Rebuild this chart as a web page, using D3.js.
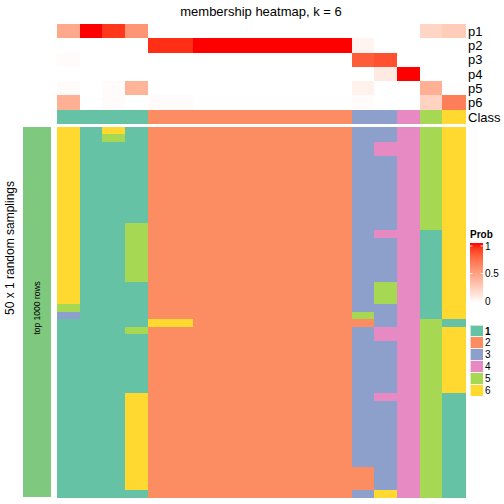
<!DOCTYPE html>
<html><head><meta charset="utf-8">
<script src="https://cdn.jsdelivr.net/npm/d3@7"></script>
<style>body{margin:0;background:#fff;}svg{display:block;font-family:"Liberation Sans",Arial,sans-serif;}rect{shape-rendering:crispEdges;}</style>
</head><body><svg id="c" width="504" height="504"></svg>
<script>
// ---- data ----
const title = "membership heatmap, k = 6";
const classes = [1, 2, 3, 4, 5, 6];
const classColors = ["#66C2A5", "#FC8D62", "#8DA0CB", "#E78AC3", "#A6D854", "#FFD92F"];
const probNames = ["p1", "p2", "p3", "p4", "p5", "p6"];
const sampleClass = [1,1,1,1,2,2,2,2,2,2,2,2,2,3,3,4,5,6];
const p1 = [0.45,1.00,0.92,0.55,0,0,0,0,0,0,0,0,0,0,0,0,0.22,0.27];
const p2 = [0,0,0,0,0.94,0.94,1,1,1,1,1,1,1,0.06,0,0,0,0];
const p3 = [0.02,0,0,0,0,0,0,0,0,0,0,0,0,0.80,0.84,0,0,0];
const p4 = [0,0,0,0,0,0,0,0,0,0,0,0,0,0,0.11,1,0,0];
const p5 = [0.02,0,0.02,0.40,0,0,0,0,0,0,0,0,0,0.07,0,0,0.42,0];
const p6 = [0.42,0,0.02,0,0.02,0.02,0,0,0,0,0,0,0,0.02,0,0,0.24,0.66];
const probTicks = [0, 0.5, 1];
// 50 random samplings (rows) x 18 samples (columns): class calls
const samplings = [
"616122222222233456","615122222222233456","611122222222234456","611122222222234456",
"611122222222233456","611122222222233456","611122222222233456","611122222222233456",
"611122222222233456","611122222222233456","611122222222233456","611122222222233456",
"611122222222233456","611522222222233456","611522222222234416","611522222222233416",
"611522222222233416","611522222222233416","611522222222233416","611522222222233416",
"611522222222233416","611122222222235416","611122222222235416","611122222222235416",
"511122222222233416","311122222222253416","111166222222223451","111522222222234456",
"111122222222234456","111122222222233456","111122222222233456","111122222222233456",
"111122222222233456","111122222222233456","111122222222233456","111122222222233456",
"111622222222234451","111622222222233451","111622222222233451","111622222222233451",
"111622222222233451","111622222222233451","111622222222233451","111622222222233451",
"111622222222233451","111622222222233451","111622222222223451","111622222222223451",
"111622222222223451","111122222222236451"
];
const leftLabel = "50 x 1 random samplings";
const groupLabel = "top 1000 rows";
const groupColor = "#7FC97F";

// ---- drawing ----
const svg = d3.select("#c");
const nCol = sampleClass.length;
const x = d3.scaleBand().domain(d3.range(nCol)).range([57, 465]);
const annRows = probNames.concat(["Class"]);
const ya = d3.scaleBand().domain(annRows).range([24, 124]);
const ym = d3.scaleBand().domain(d3.range(samplings.length)).range([126.7, 497]);
const probColor = d3.scaleLinear().domain([0, 1]).range(["#FFFFFF", "#FF0000"]).interpolate(d3.interpolateLab);
const classColor = d3.scaleOrdinal().domain(classes).range(classColors);
const probs = [p1, p2, p3, p4, p5, p6];

svg.append("text").attr("x", 261).attr("y", 16).attr("text-anchor", "middle")
  .attr("font-size", 13).text(title);

// probability annotation rows
probs.forEach((arr, i) => {
  svg.append("g").selectAll("rect").data(arr).join("rect")
    .attr("x", (d, j) => x(j)).attr("y", ya(probNames[i]))
    .attr("width", x.bandwidth() + 0.5).attr("height", ya.bandwidth() + 0.5)
    .attr("fill", d => probColor(d));
});
svg.append("g").selectAll("rect").data(sampleClass).join("rect")
  .attr("x", (d, j) => x(j)).attr("y", ya("Class"))
  .attr("width", x.bandwidth() + 0.5).attr("height", ya.bandwidth())
  .attr("fill", d => classColor(d));
svg.append("g").selectAll("text").data(annRows).join("text")
  .attr("x", 468).attr("y", d => ya(d) + ya.bandwidth() / 2).attr("dy", "0.36em")
  .attr("font-size", 13).text(d => d);

// main heatmap
const cells = [];
samplings.forEach((row, r) => row.split("").forEach((c, j) => cells.push({ r, j, v: +c })));
svg.append("g").selectAll("rect").data(cells).join("rect")
  .attr("x", d => x(d.j)).attr("y", d => ym(d.r))
  .attr("width", x.bandwidth() + 0.5).attr("height", ym.bandwidth() + 0.5)
  .attr("fill", d => classColor(d.v));

// left group annotation
svg.append("rect").attr("x", 23).attr("y", ym.range()[0]).attr("width", 28)
  .attr("height", ym.range()[1] - ym.range()[0]).attr("fill", groupColor);
const cy = (ym.range()[0] + ym.range()[1]) / 2;
svg.append("text").attr("transform", `translate(37,${cy - 4}) rotate(-90)`)
  .attr("text-anchor", "middle").attr("dy", "0.35em").attr("font-size", 8.5).text(groupLabel);
svg.append("text").attr("transform", `translate(14,248) rotate(-90)`)
  .attr("text-anchor", "middle").attr("font-size", 12).text(leftLabel);

// Prob legend
const lg = svg.append("g");
lg.append("text").attr("x", 470).attr("y", 238).attr("font-size", 10).attr("font-weight", "bold").text("Prob");
const grad = svg.append("defs").append("linearGradient").attr("id", "pg")
  .attr("x1", 0).attr("y1", 1).attr("x2", 0).attr("y2", 0);
d3.range(0, 1.0001, 0.1).forEach(t => grad.append("stop").attr("offset", t).attr("stop-color", probColor(t)));
const yl = d3.scaleLinear().domain([0, 1]).range([301, 246]);
lg.append("rect").attr("x", 470).attr("y", 243).attr("width", 13).attr("height", 60).attr("fill", "url(#pg)");
lg.selectAll("line.tl").data(probTicks).join("line").attr("class", "tl")
  .attr("x1", 470).attr("x2", 472.5).attr("y1", d => yl(d)).attr("y2", d => yl(d))
  .attr("stroke", "#fff").attr("stroke-width", 0.8);
lg.selectAll("line.tr").data(probTicks).join("line").attr("class", "tr")
  .attr("x1", 480.5).attr("x2", 483).attr("y1", d => yl(d)).attr("y2", d => yl(d))
  .attr("stroke", "#fff").attr("stroke-width", 0.8);
lg.selectAll("text.pl").data(probTicks).join("text").attr("class", "pl")
  .attr("x", 485).attr("y", d => yl(d)).attr("dy", "0.36em").attr("font-size", 10)
  .text(d => d3.format("~g")(d));

// Class legend
const cg = svg.append("g");
cg.append("text").attr("x", 470).attr("y", 322).attr("font-size", 10).attr("font-weight", "bold").text("Class");
const ys = d3.scaleBand().domain(classes).range([325, 396.4]);
cg.selectAll("rect").data(classes).join("rect")
  .attr("x", 470).attr("y", d => ys(d)).attr("width", 13).attr("height", ys.bandwidth())
  .attr("fill", d => classColor(d)).attr("stroke", "#fff").attr("stroke-opacity", 0.6).attr("stroke-width", 1);
cg.selectAll("text").data(classes).join("text")
  .attr("x", 485).attr("y", d => ys(d) + ys.bandwidth() / 2).attr("dy", "0.36em")
  .attr("font-size", 10).text(d => d);
</script></body></html>
